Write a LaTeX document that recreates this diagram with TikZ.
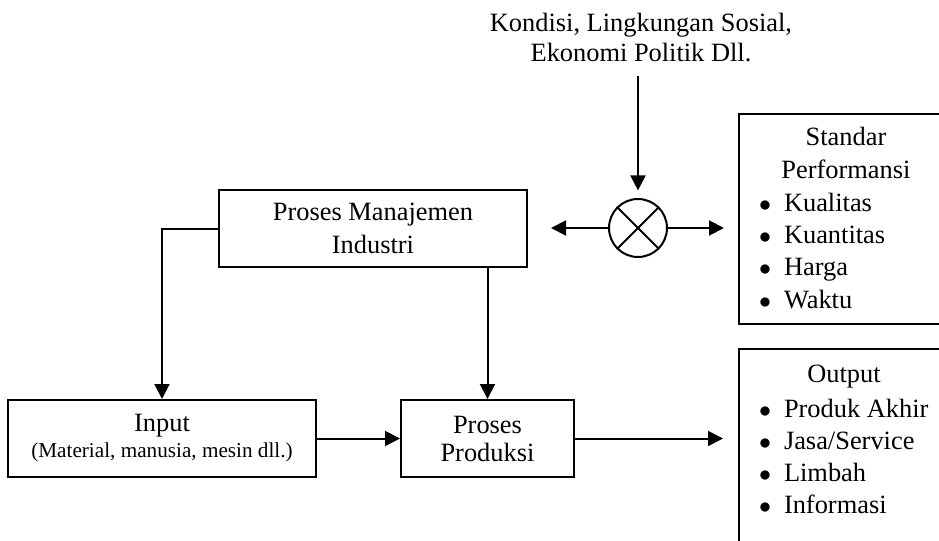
\documentclass[tikz,border=0pt]{standalone}
\usepackage{fontspec}
\setmainfont{Liberation Serif}
\usepackage{tikz}
\usetikzlibrary{arrows.meta}
\newcommand{\titik}{\makebox[12.5pt][l]{$\bullet$}}

\begin{document}
\begin{tikzpicture}[x=0.5pt,y=-0.5pt,line width=1pt,
	kotak/.style={draw,rectangle,align=center,inner sep=0pt},
	panah/.style={-{Triangle[length=7.5pt,width=7.5pt]}},
	font=\fontsize{13.2}{16.2}\selectfont]
\useasboundingbox (0,0) rectangle (939,541);
\clip (0,0) rectangle (939,541);

\node[align=center,font=\fontsize{13.2}{15}\selectfont] (kondisi) at (641,38) {Kondisi, Lingkungan Sosial,\\Ekonomi Politik Dll.};
\node[draw,circle,minimum size=29pt,inner sep=0pt] (silang) at (638,228) {};
\coordinate (kiri) at (551,228);
\coordinate (kanan) at (724,228);

\node[kotak,minimum width=154pt,minimum height=38.5pt,font=\fontsize{13.2}{16.5}\selectfont] (manajemen) at (373,228.5) {Proses Manajemen\\Industri};
\node[kotak,minimum width=154pt,minimum height=38.5pt,font=\fontsize{13.2}{13}\selectfont] (input) at (162,438.5) {Input\\{\fontsize{10.6}{13}\selectfont(Material, manusia, mesin dll.)}};
\node[kotak,minimum width=86.5pt,minimum height=38.5pt,font=\fontsize{13.2}{14}\selectfont] (produksi) at (487.5,438.5) {Proses\\Produksi};
\coordinate (keluar) at (723,438.5);

\node[draw,minimum width=111pt,minimum height=105pt] (standar) at (850,219) {};
\node[align=center,font=\fontsize{13.2}{16.5}\selectfont] (stdjudul) at (846,152.5) {Standar\\Performansi};
\node[align=left,inner sep=0pt,anchor=west] (stdisi) at (758,250.75) {\titik Kualitas\\\titik Kuantitas\\\titik Harga\\\titik Waktu};

\node[draw,minimum width=111pt,minimum height=101pt] (output) at (850,450) {};
\node (outjudul) at (844,376.4) {Output};
\node[align=left,inner sep=0pt,anchor=west,font=\fontsize{13.2}{16}\selectfont] (outisi) at (758,456) {\titik Produk Akhir\\\titik Jasa/Service\\\titik Limbah\\\titik Informasi};

\draw (silang.45) -- (silang.225) (silang.135) -- (silang.315);
\draw[panah,shorten <=3pt,shorten >=3.8pt] (kondisi.south -| silang) -- (silang);
\path[panah]
(silang) edge (kiri)
edge (kanan)
(input) edge (produksi)
(produksi) edge (keluar)
;
\draw[panah] (manajemen.west) -| (input);
\draw[panah] (manajemen.south -| produksi.north) -- (produksi.north);
\end{tikzpicture}
\end{document}
